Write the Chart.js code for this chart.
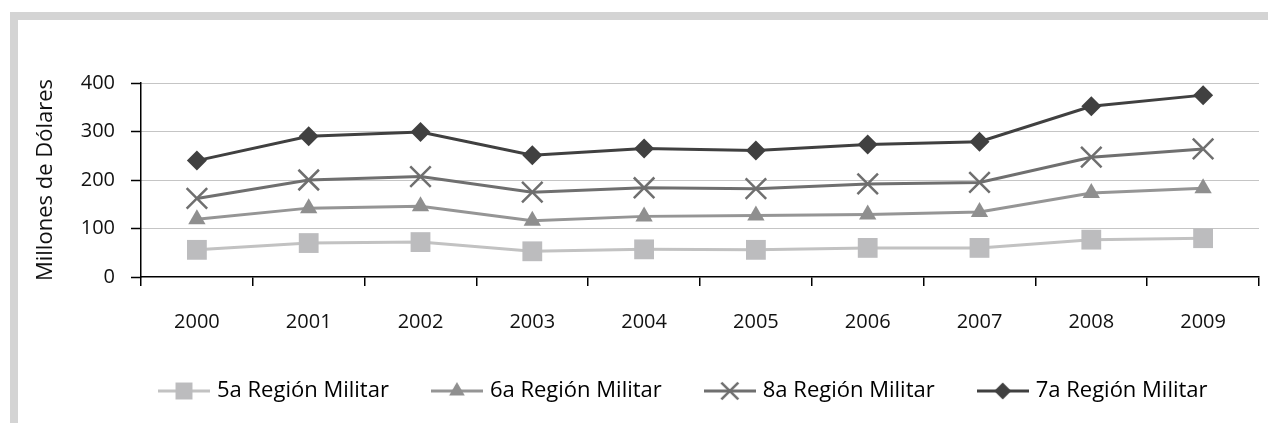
<!DOCTYPE html>
<html>
<head>
<meta charset="utf-8">
<script src="https://cdn.jsdelivr.net/npm/chart.js@4/dist/chart.umd.min.js"></script>
<style>
  html, body { margin: 0; padding: 0; background: #fff; }
  #frame {
    position: absolute; left: 10px; top: 12px; width: 1258px; height: 411px;
    border-top: 8px solid #d4d4d4; border-left: 8px solid #d4d4d4; box-sizing: border-box;
  }
  #wrap { position: absolute; left: 0; top: 0; width: 1268px; height: 423px; }
</style>
</head>
<body>
<div id="frame"></div>
<div id="wrap"><canvas id="chart" width="1268" height="423"></canvas></div>
<script>
// values (millions of dollars)
const years = ['2000', '2001', '2002', '2003', '2004', '2005', '2006', '2007', '2008', '2009'];
const region5 = [56, 70, 72, 53, 57, 56, 60, 60, 77, 80];
const region6 = [119, 142, 146, 116, 125, 127, 129, 134, 173, 183];
const region8 = [162, 200, 207, 175, 184, 182, 192, 195, 247, 264];
const region7 = [240, 290, 299, 251, 265, 261, 273, 279, 352, 375];
const yTicks = [0, 100, 200, 300, 400];

const FONT = "'Open Sans', 'DejaVu Sans', sans-serif";

// small canvas used as legend symbol: line with the marker in the middle
function legendIcon(lineColor, style, fill, radius, borderWidth) {
    const c = document.createElement('canvas');
    c.width = 52; c.height = 24;
    const ctx = c.getContext('2d');
    ctx.strokeStyle = lineColor;
    ctx.lineWidth = 3;
    ctx.beginPath();
    ctx.moveTo(0, 12);
    ctx.lineTo(52, 12);
    ctx.stroke();
    ctx.fillStyle = fill;
    ctx.strokeStyle = fill;
    ctx.lineWidth = borderWidth;
    Chart.helpers.drawPoint(ctx, { pointStyle: style, radius: radius, rotation: 0, borderWidth: borderWidth }, 26, 12);
    return c;
}

const series = [
    { label: '5a Región Militar', data: region5, line: '#c2c2c2', fill: '#bcbcbe', style: 'rect', r: 14, lr: 12, bw: 0 },
    { label: '6a Región Militar', data: region6, line: '#959595', fill: '#8f8f8f', style: 'triangle', r: 10, lr: 9, bw: 0 },
    { label: '8a Región Militar', data: region8, line: '#6f6f6f', fill: '#6f6f6f', style: 'crossRot', r: 14.5, lr: 12, bw: 2.5 },
    { label: '7a Región Militar', data: region7, line: '#404040', fill: '#404040', style: 'rectRot', r: 10, lr: 8.5, bw: 0 }
];

const datasets = series.map(s => ({
    label: s.label,
    data: s.data,
    borderColor: s.line,
    borderWidth: 3,
    tension: 0,
    pointStyle: s.style,
    pointRadius: s.r,
    pointBackgroundColor: s.fill,
    pointBorderColor: s.fill,
    pointBorderWidth: s.bw
}));

// legend sits a bit right of the canvas centre in the original
const legendShift = {
    id: 'legendShift',
    afterLayout(chart) {
        chart.legend.left += 116;
        chart.legend.right += 116;
    }
};

new Chart(document.getElementById('chart'), {
    type: 'line',
    data: { labels: years, datasets: datasets },
    options: {
        responsive: false,
        animation: false,
        events: [],
        layout: { autoPadding: false, padding: { left: 0, right: 9, top: 83, bottom: 11 } },
        scales: {
            x: {
                offset: true,
                grid: { offset: true, drawOnChartArea: false, drawTicks: true, tickLength: 9, color: '#000', lineWidth: 1.5 },
                border: { color: '#000', width: 1.5 },
                ticks: { color: '#111', font: { family: FONT, size: 20 }, padding: 24, maxRotation: 0 },
                afterFit: scale => {
                    scale.height = 57;
                    scale.paddingLeft = 0;
                    scale.paddingRight = 0;
                }
            },
            y: {
                min: 0,
                max: 400,
                afterBuildTicks: scale => { scale.ticks = yTicks.map(v => ({ value: v })); },
                grid: {
                    color: ctx => ctx.tick && ctx.tick.value === 0 ? 'rgba(0,0,0,0)' : '#8a8a8a',
                    lineWidth: 1,
                    tickLength: 10,
                    tickColor: '#000',
                    tickWidth: 1.5
                },
                border: { color: '#000', width: 1.5, dash: [1, 1] },
                ticks: { color: '#111', font: { family: FONT, size: 20 }, padding: 16 },
                title: {
                    display: true,
                    text: 'Millones de Dólares',
                    color: '#111',
                    font: { family: FONT, size: 22 },
                    padding: { top: 33, bottom: 0 }
                },
                afterFit: scale => { scale.width = 141; }
            }
        },
        plugins: {
            tooltip: { enabled: false },
            legend: {
                position: 'bottom',
                align: 'start',
                labels: {
                    color: '#111',
                    font: { family: FONT, size: 22 },
                    usePointStyle: true,
                    pointStyleWidth: 44,
                    padding: 46,
                    generateLabels: () => series.map((s, i) => ({
                        text: s.label,
                        datasetIndex: i,
                        pointStyle: legendIcon(s.line, s.style, s.fill, s.lr, s.bw),
                        fillStyle: s.fill,
                        strokeStyle: s.line,
                        lineWidth: 0,
                        hidden: false
                    }))
                }
            }
        }
    },
    plugins: [legendShift]
});
</script>
</body>
</html>
